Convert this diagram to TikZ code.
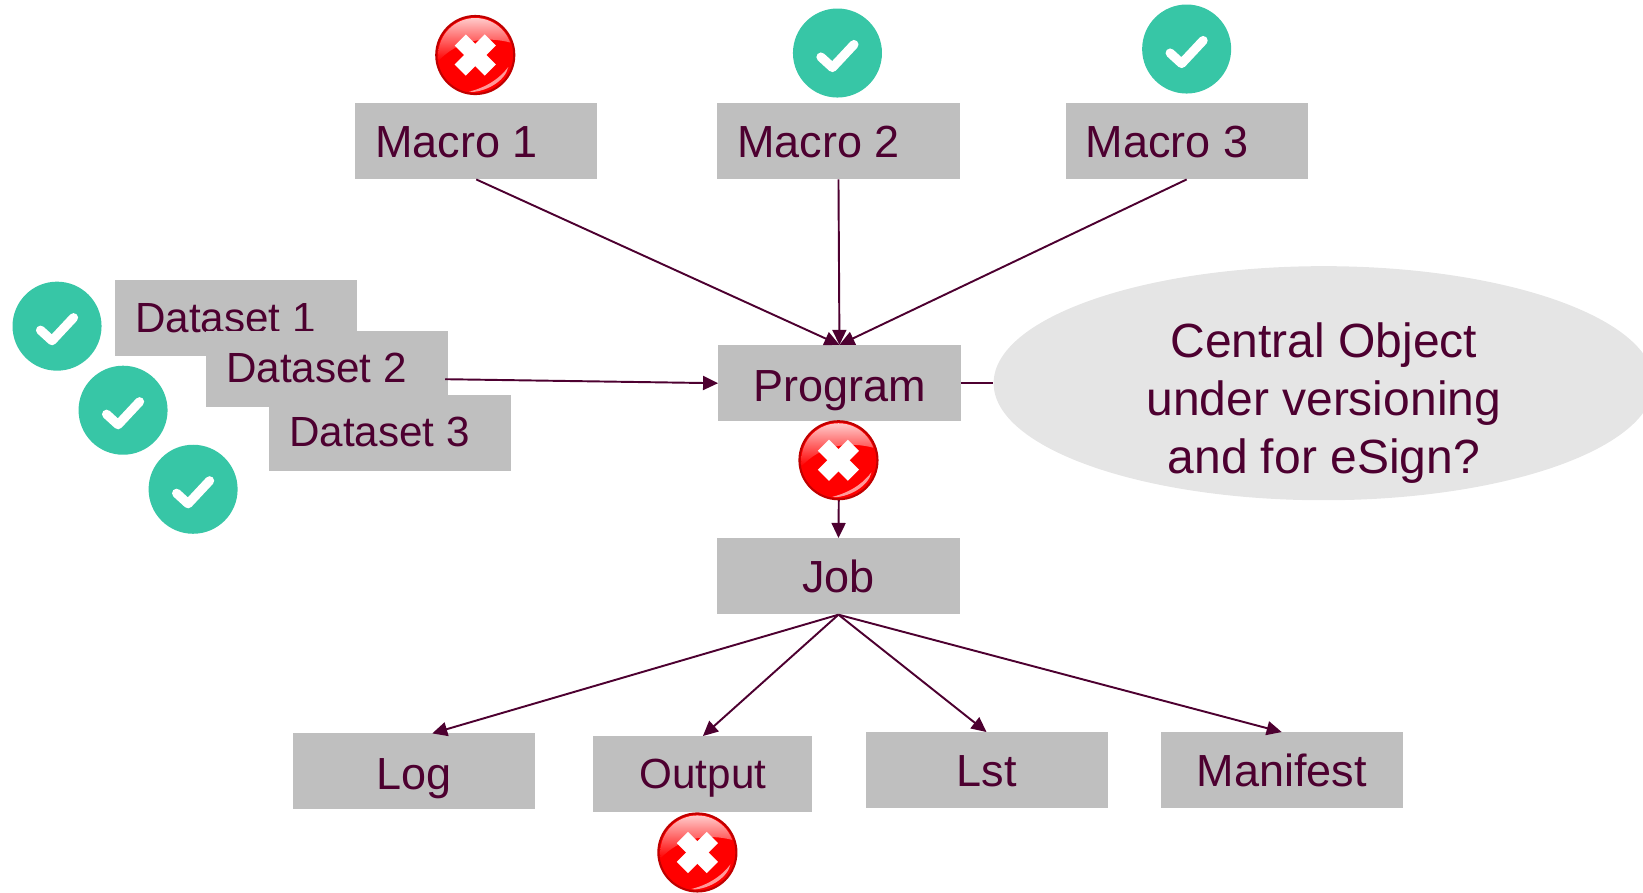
\documentclass[tikz,border=0pt]{standalone}
\usepackage{fontspec}
\setmainfont{Liberation Sans}
\usepackage{xcolor}
\usetikzlibrary{shapes.geometric,arrows.meta,calc}
\definecolor{maroon}{HTML}{4D0030}
\definecolor{boxgray}{HTML}{BFBFBF}
\definecolor{ellgray}{HTML}{E5E5E5}
\definecolor{okteal}{HTML}{37C6A6}
\definecolor{rimred}{HTML}{C00000}
\tikzset{
  objbox/.style={fill=boxgray,text=maroon,font=\fontsize{25.6}{30}\selectfont,minimum width=4.84cm,minimum height=1.52cm,inner sep=0pt,text height=0.64cm,text depth=0pt},
  leftbox/.style={objbox,align=flush left,text width=4.04cm},
  databox/.style={leftbox,font=\fontsize{24}{28}\selectfont,text height=0.56cm},
  conn/.style={draw=maroon,line width=1.1pt,-{Triangle[length=0.3cm,width=0.28cm]}},
  okdisc/.style={circle,fill=okteal,minimum size=1.78cm,inner sep=0pt},
  nodisc/.style={circle,fill=red,draw=rimred,line width=1.2pt,minimum size=1.56cm,inner sep=0pt}
}
\newcommand{\okmark}[2]{
\node[okdisc] (#1) at (#2) {};
\draw[white,line width=5.2pt,line cap=round,line join=round] ($(#1)+(-16.5,4)$)--($(#1)+(-5,14.5)$)--($(#1)+(16.5,-8.5)$);
}
\newcommand{\nomark}[2]{
\node[nodisc] (#1) at (#2) {};
\begin{scope}
\clip (#1) circle (37);
\shade[top color=white!85!red,bottom color=red] ($(#1)+(-37,6)$) .. controls ($(#1)+(-18,-14)$) and ($(#1)+(8,-20)$) .. ($(#1)+(37,-12)$) -- ($(#1)+(37,-40)$) -- ($(#1)+(-37,-40)$) -- cycle;
\fill[white,opacity=0.6] ($(#1)+(-8,37)$) .. controls ($(#1)+(10,33)$) and ($(#1)+(24,24)$) .. ($(#1)+(33,12)$) .. controls ($(#1)+(30,26)$) and ($(#1)+(10,38)$) .. cycle;
\end{scope}
\draw[white,line width=9pt] ($(#1)+(-15,-15)$)--($(#1)+(15,15)$);
\draw[white,line width=9pt] ($(#1)+(15,-15)$)--($(#1)+(-15,15)$);
}

\begin{document}
\begin{tikzpicture}[x=0.02cm,y=-0.02cm]
\useasboundingbox (0,0) rectangle (1642.1,892.5);
\clip (0,0) rectangle (1642.1,892.5);
% central object
\node[ellipse,fill=ellgray,minimum width=13.2cm,minimum height=4.68cm,inner sep=0pt] (central) at (1323,383) {};
\node[text=maroon,font=\fontsize{27.3}{33}\selectfont,align=center,inner sep=0pt] (centraltext) at (1323,402.5) {Central Object\\under versioning\\and for eSign?};
% boxes
\node[leftbox] (macro1) at (476,141) {Macro 1};
\node[leftbox] (macro2) at (838,141) {Macro 2};
\node[leftbox] (macro3) at (1186,141) {Macro 3};
\node[objbox,text height=0.72cm] (program) at (839,383) {Program};
\node[objbox] (job) at (838,576) {Job};
\node[databox] (data1) at (236,318) {Dataset 1};
\node[databox,text height=0.54cm] (data2) at (327,369) {Dataset 2};
\node[databox,text height=0.54cm] (data3) at (390,433) {Dataset 3};
\node[objbox,text height=0.72cm] (log) at (414,771) {Log};
\node[objbox,minimum width=4.38cm,font=\fontsize{24}{28}\selectfont,text height=0.56cm] (output) at (702.5,774) {Output};
\node[objbox] (lst) at (986,770) {Lst};
\node[objbox] (manifest) at (1281,770) {Manifest};
\coordinate (dataout) at (445,379);
\coordinate (login) at (432,733);
% connectors
\draw[conn] (macro1.south)--(program.north);
\draw[conn] (macro2.south)--(program.north);
\draw[conn] (macro3.south)--(program.north);
\draw[conn] (dataout)--(program.west);
\draw[draw=maroon,line width=1.1pt] (program.east)--(central.west);
\draw[conn] (program.south)--(job.north);
\draw[conn] (job.south)--(login);
\draw[conn] (job.south)--(output.north);
\draw[conn] (job.south)--(lst.north);
\draw[conn] (job.south)--(manifest.north);
% marks
\nomark{nomacro}{475,55}
\okmark{okmacrob}{837,53}
\okmark{okmacroc}{1186,49}
\okmark{okdataa}{57,326}
\okmark{okdatab}{123,410}
\okmark{okdatac}{193,489}
\nomark{noprogram}{838,460}
\nomark{nooutput}{697,852}
\end{tikzpicture}
\end{document}
